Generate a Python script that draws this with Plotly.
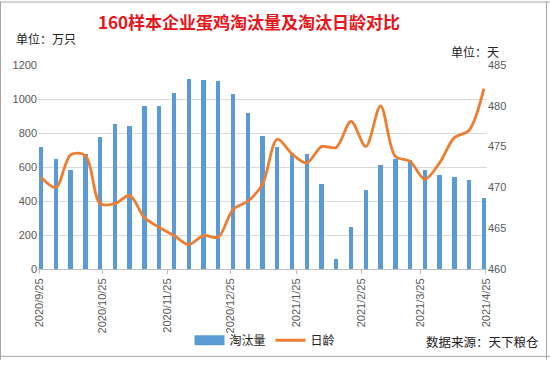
import plotly.graph_objects as go
import pandas as pd

# Data
dates = pd.date_range("2020-09-26", periods=31, freq="7D").strftime("%Y-%m-%d").tolist()
cull_volume = [716, 649, 584, 675, 774, 851, 839, 958, 958, 1038, 1115,
               1111, 1105, 1029, 920, 783, 720, 682, 678, 502, 57, 245,
               464, 613, 649, 640, 584, 552, 544, 521, 416]
cull_age = [471.2, 470.0, 474.0, 473.9, 468.0, 468.0, 469.0, 466.3, 465.1, 464.1, 463.0,
            464.1, 463.9, 467.3, 468.3, 470.4, 475.9, 474.1, 473.0, 475.0, 474.9, 478.1,
            475.0, 480.0, 473.8, 473.2, 471.0, 473.0, 476.1, 477.0, 482.1]
tick_dates = ["2020-09-25", "2020-10-25", "2020-11-25", "2020-12-25",
              "2021-01-25", "2021-02-25", "2021-03-25", "2021-04-25"]
tick_text = ["2020/9/25", "2020/10/25", "2020/11/25", "2020/12/25",
             "2021/1/25", "2021/2/25", "2021/3/25", "2021/4/25"]

FONT = "Liberation Sans, Arial, Noto Sans CJK SC"
CJK = "Noto Sans CJK SC, Microsoft YaHei"
BLUE = "#5B9BD5"
ORANGE = "#ED7D31"

fig = go.Figure()
fig.add_trace(go.Bar(x=dates, y=cull_volume, name="淘汰量", showlegend=False,
                     marker=dict(color=BLUE, line=dict(width=0)),
                     width=2.1 * 86400000, yaxis="y"))
# legend proxy for the bar series (wide swatch like the reference)
fig.add_trace(go.Scatter(x=[None], y=[None], name="淘汰量", mode="lines",
                         line=dict(color=BLUE, width=10), yaxis="y"))
fig.add_trace(go.Scatter(x=dates, y=cull_age, name="日龄", mode="lines",
                         line=dict(color=ORANGE, width=2.8, shape="spline", smoothing=0.9),
                         yaxis="y2"))

W, H = 550, 367
L, R, T, B = 38, 63, 65, 93
pw, ph = W - L - R, H - T - B

def px_x(px):
    return (px - L) / pw

def px_y(py):
    return (H - B - py) / ph

border = dict(color="#A6A6A6", width=1)
fig.update_layout(
    width=W, height=H,
    margin=dict(l=L, r=R, t=T, b=B),
    paper_bgcolor="white", plot_bgcolor="white",
    font=dict(family=FONT, size=11, color="#595959"),
    showlegend=True,
    legend=dict(orientation="h", x=px_x(265), xanchor="center", y=px_y(347), yanchor="middle",
                font=dict(family=CJK, size=12, color="#222222"),
                itemwidth=30, traceorder="normal", bgcolor="rgba(0,0,0,0)"),
    bargap=0,
    xaxis=dict(type="date", range=["2020-09-24 12:00", "2021-04-25 12:00"],
               tickvals=tick_dates, ticktext=tick_text, tickangle=-90,
               showgrid=False, showline=True, linecolor="#BFBFBF", linewidth=1,
               ticks="outside", ticklen=4, tickcolor="#BFBFBF", automargin=False,
               tickfont=dict(family=FONT, size=11, color="#595959"), zeroline=False),
    yaxis=dict(range=[0, 1200], dtick=200, showgrid=True, gridcolor="#D9D9D9", gridwidth=1,
               zeroline=False, showline=False, ticks="", automargin=False,
               tickfont=dict(family=FONT, size=11, color="#595959")),
    yaxis2=dict(range=[460, 485], dtick=5, overlaying="y", side="right", showgrid=False,
                zeroline=False, showline=False, ticks="", automargin=False,
                tickfont=dict(family=FONT, size=11, color="#595959")),
    annotations=[
        dict(text="<b>160样本企业蛋鸡淘汰量及淘汰日龄对比</b>", xref="paper", yref="paper",
             x=px_x(249), y=px_y(20), xanchor="center", yanchor="middle", showarrow=False,
             font=dict(family=CJK, size=17, color="#E8141B")),
        dict(text="单位：万只", xref="paper", yref="paper", x=px_x(14), y=px_y(38),
             xanchor="left", yanchor="middle", showarrow=False,
             font=dict(family=CJK, size=12, color="#222222")),
        dict(text="单位：天", xref="paper", yref="paper", x=px_x(501), y=px_y(51),
             xanchor="right", yanchor="middle", showarrow=False,
             font=dict(family=CJK, size=12, color="#222222")),
        dict(text="数据来源：天下粮仓", xref="paper", yref="paper", x=px_x(541), y=px_y(348),
             xanchor="right", yanchor="middle", showarrow=False,
             font=dict(family=CJK, size=12.5, color="#222222")),
    ],
    shapes=[
        dict(type="line", xref="paper", yref="paper", x0=px_x(0.5), x1=px_x(0.5),
             y0=px_y(0), y1=px_y(367), line=border),
        dict(type="line", xref="paper", yref="paper", x0=px_x(0), x1=px_x(550),
             y0=px_y(0.5), y1=px_y(0.5), line=border),
        dict(type="line", xref="paper", yref="paper", x0=px_x(546.5), x1=px_x(546.5),
             y0=px_y(0), y1=px_y(367), line=border),
        dict(type="line", xref="paper", yref="paper", x0=px_x(0), x1=px_x(550),
             y0=px_y(363.5), y1=px_y(363.5), line=border),
    ],
)

fig.write_html("out.html", config={"displayModeBar": False},
               post_script="document.body.style.margin='0';document.body.style.overflow='hidden';")
